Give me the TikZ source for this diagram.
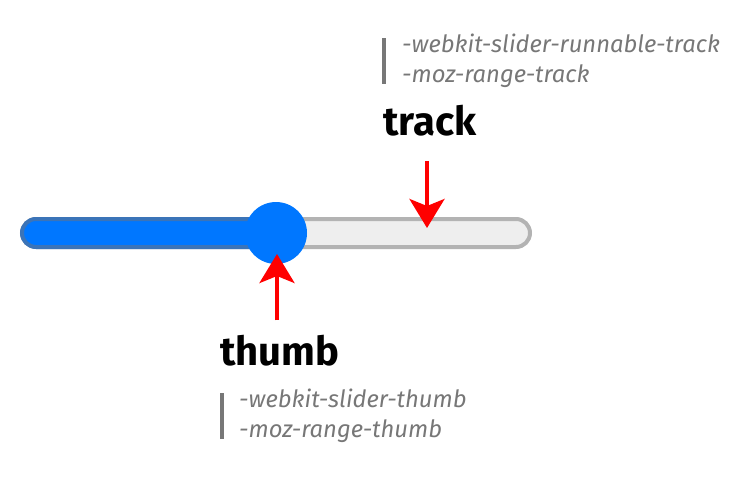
\documentclass[tikz,border=0pt]{standalone}
\usepackage{fontspec}
\setmainfont{Fira Sans}
\usepackage{xcolor}
\usepackage{tikz}
\usetikzlibrary{arrows.meta, positioning, calc}
\definecolor{thumbblue}{HTML}{0077FF}
\definecolor{fillborder}{HTML}{3B74B8}
\definecolor{trackfill}{HTML}{EEEEEE}
\definecolor{trackborder}{HTML}{B3B3B3}
\definecolor{codegray}{HTML}{777777}
\tikzstyle{partlabel} = [inner sep=0pt, anchor=base west, font=\bfseries\fontsize{40}{40}\selectfont]
\tikzstyle{csscode} = [inner sep=0pt, anchor=base west, text=codegray, font=\itshape\fontsize{23.8}{28}\selectfont]
\tikzstyle{codebar} = [draw=codegray, line width=4pt]
\tikzstyle{trackbox} = [rectangle, rounded corners=14pt, line width=4pt, draw=trackborder, fill=trackfill, minimum width=508pt, minimum height=28pt, inner sep=0pt]
\tikzstyle{arrow} = [draw=red, line width=4pt, -{Stealth[length=29pt, width=35pt, inset=7pt]}]

\begin{document}
\begin{tikzpicture}[x=1pt, y=-1pt]
    \useasboundingbox (0,0) rectangle (745,477);

    % Slider
    \node[trackbox] (track) at (276,233) {};
    \node[trackbox, draw=fillborder, fill=thumbblue, minimum width=256pt, anchor=west] (progress) at (track.west) {};
    \node[circle, fill=thumbblue, minimum size=62pt, inner sep=0pt] (thumb) at (276,233) {};

    % Track labels
    \node[csscode] (trackcss1) at (402,52) {-webkit-slider-runnable-track};
    \node[csscode] (trackcss2) at ([yshift=-30pt]trackcss1.base west) {-moz-range-track};
    \draw[codebar] ([xshift=-18pt, yshift=14pt]trackcss1.base west) -- ([xshift=-18pt, yshift=-2pt]trackcss2.base west);
    \node[partlabel] (tracklabel) at (383,135) {track};

    % Thumb labels
    \node[partlabel] (thumblabel) at (220,365) {thumb};
    \node[csscode] (thumbcss1) at (239,407) {-webkit-slider-thumb};
    \node[csscode] (thumbcss2) at ([yshift=-30pt]thumbcss1.base west) {-moz-range-thumb};
    \draw[codebar] ([xshift=-17pt, yshift=14pt]thumbcss1.base west) -- ([xshift=-17pt, yshift=-2pt]thumbcss2.base west);

    % Arrows
    \coordinate (tracktip) at (427,228);
    \coordinate (thumbtip) at (277,254);
    \draw[arrow] (tracklabel.south -| tracktip) ++(0,25) -- (tracktip);
    \draw[arrow] (thumblabel.north -| thumbtip) ++(0,-14) -- (thumbtip);
\end{tikzpicture}
\end{document}
